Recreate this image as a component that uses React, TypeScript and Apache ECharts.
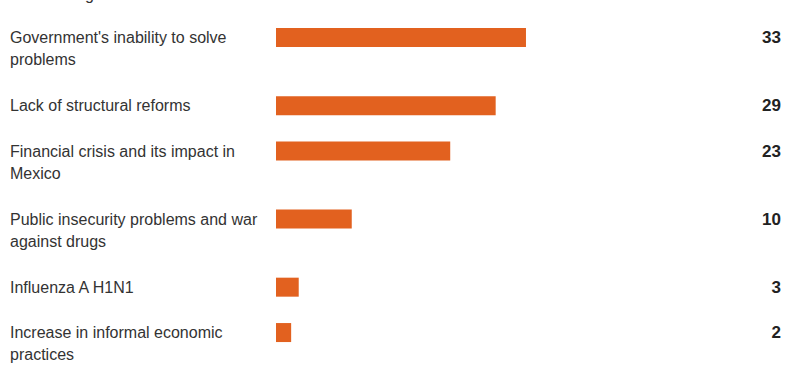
import React, { useEffect, useRef } from "react";
import * as echarts from "echarts";

const categories = [
  "Government's inability to solve\nproblems",
  "Lack of structural reforms",
  "Financial crisis and its impact in\nMexico",
  "Public insecurity problems and war\nagainst drugs",
  "Influenza A H1N1",
  "Increase in informal economic\npractices",
];
const values = [33, 29, 23, 10, 3, 2];
const titleText = "Percentage";

const FONT = "'Liberation Sans Narrow', 'Arial Narrow', 'Liberation Sans', sans-serif";
const BAR = "#E2611F";

export default function App() {
  const ref = useRef<HTMLDivElement>(null);
  useEffect(() => {
    if (!ref.current) return;
    const chart = echarts.init(ref.current, undefined, { renderer: "svg" });

    // each row takes (lines + 1) slots on the category axis
    const slotNames: string[] = [];
    const slotValues: (number | string)[] = [];
    const slotLabels: string[] = [];
    categories.forEach((c, i) => {
      const lines = c.split("\n").length;
      slotNames.push(c);
      slotValues.push(values[i]);
      slotLabels.push(String(values[i]));
      if (i < categories.length - 1) {
        for (let k = 0; k < lines; k++) {
          slotNames.push(" ".repeat(k + 1 + i * 3));
          slotValues.push("-");
          slotLabels.push("");
        }
      }
    });

    chart.setOption({
      animation: false,
      title: {
        text: titleText,
        left: 16,
        top: -19,
        textStyle: { fontFamily: FONT, fontSize: 16, fontWeight: "normal", color: "#333" },
      },
      grid: { left: 276, right: 218, top: 26.2, bottom: 365 - 343.9, containLabel: false },
      xAxis: {
        type: "value",
        min: 0,
        max: 40,
        show: false,
      },
      yAxis: [
        {
          type: "category",
          inverse: true,
          data: slotNames,
          axisLine: { show: false },
          axisTick: { show: false },
          axisLabel: { show: false },
        },
        {
          type: "category",
          inverse: true,
          position: "right",
          data: slotLabels,
          axisLine: { show: false },
          axisTick: { show: false },
          axisLabel: {
            interval: 0,
            align: "right",
            margin: 202,
            fontFamily: "'Liberation Sans', Arial, sans-serif",
            fontWeight: "bold",
            fontSize: 17,
            color: "#222",
          },
        },
      ],
      series: [
        {
          type: "bar",
          data: slotValues,
          barWidth: 19,
          itemStyle: { color: BAR },
          label: {
            show: true,
            position: [-266, -1.5],
            align: "left",
            verticalAlign: "top",
            lineHeight: 22,
            fontFamily: FONT,
            fontSize: 16,
            color: "#333",
            formatter: (p: any) => p.name,
          },
        },
      ],
    });
    return () => chart.dispose();
  }, []);
  return (
    <div
      ref={ref}
      style={{ position: "fixed", left: 0, top: 0, width: 797, height: 365, background: "#fff" }}
    />
  );
}
